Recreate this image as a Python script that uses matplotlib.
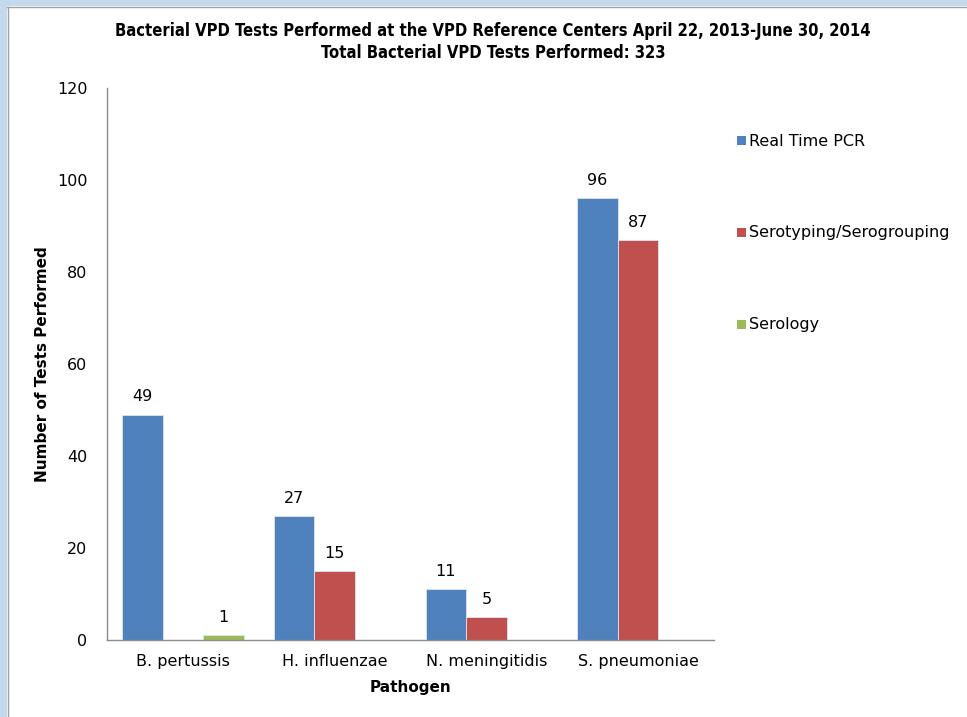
import matplotlib
matplotlib.use("Agg")
import matplotlib.pyplot as plt
from matplotlib.patches import Rectangle
import numpy as np

categories = ["B. pertussis", "H. influenzae", "N. meningitidis", "S. pneumoniae"]
series_names = ["Real Time PCR", "Serotyping/Serogrouping", "Serology"]
real_time_pcr = [49, 27, 11, 96]
serotyping = [None, 15, 5, 87]
serology = [1, None, None, None]
colors = ["#4f81bd", "#c0504d", "#9bbb59"]
yticks = [0, 20, 40, 60, 80, 100, 120]

fig = plt.figure(figsize=(9.67, 7.17), dpi=100)
fig.patch.set_facecolor("white")

# window-like border (top and left)
fig.patches.append(Rectangle((0, 1 - 6/717), 1, 6/717, transform=fig.transFigure,
                             facecolor="#c5d9ec", edgecolor="none", zorder=0))
fig.patches.append(Rectangle((0, 0), 7/967, 1, transform=fig.transFigure,
                             facecolor="#c5d9ec", edgecolor="none", zorder=0))
fig.add_artist(plt.Line2D([7/967, 1], [1 - 6.5/717, 1 - 6.5/717], transform=fig.transFigure,
                          color="#a0a0a0", lw=1))
fig.add_artist(plt.Line2D([7.5/967, 7.5/967], [0, 1 - 6.5/717], transform=fig.transFigure,
                          color="#a0a0a0", lw=1))

ax = fig.add_axes([107/967, (717-640)/717, (714-107)/967, (640-88)/717])

x = np.arange(len(categories))
w = 0.267
offsets = [-w, 0, w]
all_series = [real_time_pcr, serotyping, serology]
for vals, name, c, off in zip(all_series, series_names, colors, offsets):
    xs = [xi + off for xi, v in zip(x, vals) if v is not None]
    vs = [v for v in vals if v is not None]
    ax.bar(xs, vs, width=w, color=c, edgecolor="#dde6f2", linewidth=0.6, label=name)
    for xi, v in zip(xs, vs):
        ax.text(xi, v + 2.2, str(v), ha="center", va="bottom", fontsize=11.5,
                family="DejaVu Sans", color="black")

ax.set_xlim(-0.5, len(categories) - 0.5)
ax.set_ylim(0, 120)
ax.set_yticks(yticks)
ax.set_yticklabels([str(t) for t in yticks], fontsize=11.5, family="DejaVu Sans")
ax.set_xticks(x)
ax.set_xticklabels(categories, fontsize=11.5, family="DejaVu Sans")
ax.tick_params(axis="both", length=0)
ax.tick_params(axis="y", pad=14)
ax.tick_params(axis="x", pad=10)
for sp in ["top", "right"]:
    ax.spines[sp].set_visible(False)
for sp in ["left", "bottom"]:
    ax.spines[sp].set_color("#8c8c8c")
    ax.spines[sp].set_linewidth(1)

ax.set_ylabel("Number of Tests Performed", fontsize=11, fontweight="bold",
              family="DejaVu Sans")
ax.yaxis.set_label_coords(-57/607, 0.5)
ax.set_xlabel("Pathogen", fontsize=11, fontweight="bold", family="DejaVu Sans", labelpad=8)

fig.text(493/967, 1 - 31/717, "Bacterial VPD Tests Performed at the VPD Reference Centers April 22, 2013-June 30, 2014",
         ha="center", va="center", fontsize=11.9, fontweight="bold", family="DejaVu Sans", stretch="condensed")
fig.text(493/967, 1 - 53/717, "Total Bacterial VPD Tests Performed: 323",
         ha="center", va="center", fontsize=11.9, fontweight="bold", family="DejaVu Sans", stretch="condensed")

# legend entries
legend_y = [141, 233, 325]
for name, c, yy in zip(series_names, colors, legend_y):
    fig.patches.append(Rectangle((737/967, 1 - (yy + 4)/717), 9/967, 9/717,
                                 transform=fig.transFigure, facecolor=c, edgecolor="none"))
    fig.text(749/967, 1 - yy/717, name, ha="left", va="center", fontsize=11.5,
             family="DejaVu Sans")

fig.savefig("out.png", dpi=100)
